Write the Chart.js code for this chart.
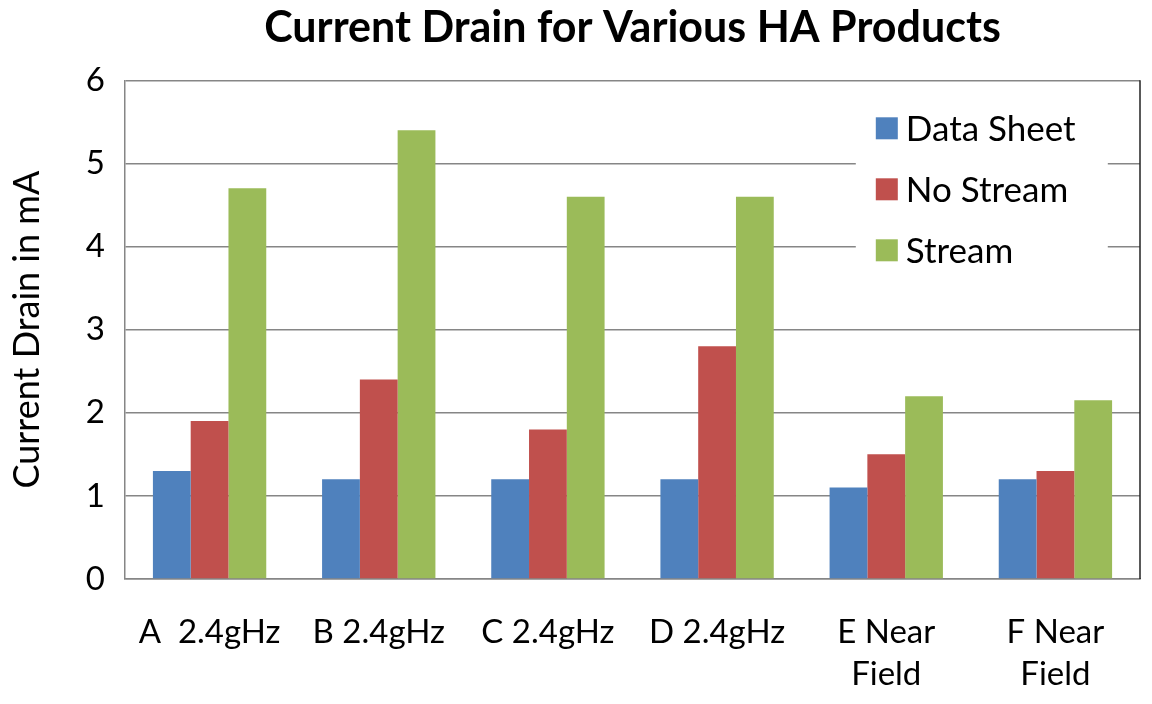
<!DOCTYPE html>
<html>
<head>
<meta charset="utf-8">
<script src="https://cdn.jsdelivr.net/npm/chart.js@4"></script>
<style>
  html,body{margin:0;padding:0;background:#fff}
  #wrap{width:1152px;height:704px}
</style>
</head>
<body>
<div id="wrap"><canvas id="chart" width="1152" height="704"></canvas></div>
<script>
const categories = ['A  2.4gHz', 'B 2.4gHz', 'C 2.4gHz', 'D 2.4gHz', ['E Near', 'Field'], ['F Near', 'Field']]
const dataSheet = [1.3, 1.2, 1.2, 1.2, 1.1, 1.2]
const noStream = [1.9, 2.4, 1.8, 2.8, 1.5, 1.3]
const stream = [4.7, 5.4, 4.6, 4.6, 2.2, 2.15]
const yTicks = [0, 1, 2, 3, 4, 5, 6]

const FONT = 'Lato, "Open Sans", sans-serif'

// legend drawn inside the plot area, top right, on a white box
const insideLegend = {
  id: 'insideLegend',
  afterDraw(chart){
    const ctx = chart.ctx
    const a = chart.chartArea
    // right border of the plot area
    ctx.save()
    ctx.strokeStyle = '#222'
    ctx.lineWidth = 1.5
    ctx.beginPath()
    ctx.moveTo(a.right, a.top)
    ctx.lineTo(a.right, a.bottom)
    ctx.stroke()

    const x0 = a.left + (a.right - a.left) * 0.72
    const y0 = a.top + 20
    ctx.fillStyle = '#fff'
    ctx.fillRect(x0, y0, 252, 178)
    ctx.font = '35px ' + FONT
    ctx.textBaseline = 'middle'
    chart.data.datasets.forEach((ds, i) => {
      const y = y0 + 28 + i * 61
      ctx.fillStyle = ds.backgroundColor
      ctx.fillRect(x0 + 20, y - 11, 22, 22)
      ctx.fillStyle = '#000'
      ctx.fillText(ds.label, x0 + 50, y + 1)
    })
    ctx.restore()
  }
}

new Chart(document.getElementById('chart').getContext('2d'), {
  type: 'bar',
  data: {
    labels: categories,
    datasets: [
      {label: 'Data Sheet', data: dataSheet, backgroundColor: '#4F81BD'},
      {label: 'No Stream', data: noStream, backgroundColor: '#C0504D'},
      {label: 'Stream', data: stream, backgroundColor: '#9BBB59'}
    ]
  },
  options: {
    responsive: false,
    animation: false,
    devicePixelRatio: 1,
    layout: {padding: {left: 0, right: 12, top: 0, bottom: 0}},
    datasets: {bar: {categoryPercentage: 0.67, barPercentage: 1.0}},
    plugins: {
      legend: {display: false},
      tooltip: {enabled: false},
      title: {
        display: true,
        fullSize: false,
        text: 'Current Drain for Various HA Products',
        color: '#000',
        font: {family: FONT, size: 43, weight: 'bold', lineHeight: 1.1},
        padding: {top: 4, bottom: 29}
      }
    },
    scales: {
      x: {
        grid: {display: false, drawTicks: false},
        border: {display: true, color: '#868686', width: 1.5},
        ticks: {color: '#000', font: {family: FONT, size: 33, lineHeight: 1.27}, padding: 32, maxRotation: 0, autoSkip: false},
        afterFit(s){ s.height = 125 }
      },
      y: {
        min: 0, max: 6,
        afterBuildTicks(s){ s.ticks = yTicks.map(v => ({value: v})) },
        grid: {color: '#868686', lineWidth: 1.5, drawTicks: false},
        border: {display: true, color: '#868686', width: 1.5},
        ticks: {color: '#000', font: {family: FONT, size: 33}, padding: 20},
        title: {display: true, text: 'Current Drain in mA', color: '#000', font: {family: FONT, size: 36}, padding: {top: 6, bottom: 4}},
        afterFit(s){ s.width = 125 }
      }
    }
  },
  plugins: [insideLegend]
})
</script>
</body>
</html>
